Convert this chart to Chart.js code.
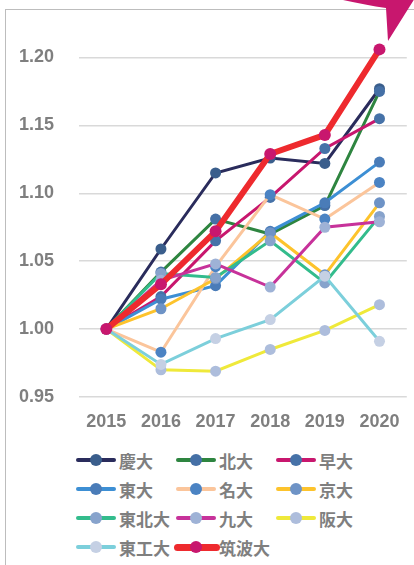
<!DOCTYPE html>
<html lang="ja">
  <head>
    <meta charset="UTF-8" />
    <title>chart</title>
    <style>
      html, body { margin: 0; padding: 0; background: #fff; }
      body { width: 414px; height: 565px; position: relative; overflow: hidden; }
      #frame { position: absolute; left: 5px; top: 9px; width: 420px; height: 570px;
        border-left: 1.5px solid #bdbdbd; border-top: 1.5px solid #bdbdbd; }
      #chart { position: absolute; left: 0; top: 0; }
      #legend { position: absolute; left: 0; top: 0; }
      .item { position: absolute; height: 28px; display: flex; align-items: center;
        font: bold 17px "Noto Sans CJK JP", sans-serif; color: #7f7f7f; white-space: nowrap; }
      .sym { position: relative; width: 40px; height: 28px; margin-right: 3px; }
      .sym .ln { position: absolute; left: 0; right: 0; top: 50%; height: 4px; margin-top: -2px; border-radius: 2px; }
      .sym .dot { position: absolute; left: 20px; top: 50%; width: 12px; height: 12px; margin: -6px 0 0 -6px; border-radius: 50%; }
    </style>
  </head>
  <body>
    <div id="frame"></div>
    <canvas id="chart" width="414" height="440"></canvas>
    <div id="legend"></div>
    <script src="https://cdn.jsdelivr.net/npm/chart.js"></script>
    <script>
      const years = ['2015', '2016', '2017', '2018', '2019', '2020'];
      const names = ['慶大', '北大', '早大', '東大', '名大', '京大', '東北大', '九大', '阪大', '東工大', '筑波大'];

      const keio = [1.0, 1.059, 1.115, 1.126, 1.122, 1.177];
      const hokudai = [1.0, 1.042, 1.081, 1.07, 1.091, 1.175];
      const waseda = [1.0, 1.024, 1.065, 1.097, 1.133, 1.155];
      const todai = [1.0, 1.022, 1.032, 1.072, 1.093, 1.123];
      const meidai = [1.0, 0.983, 1.046, 1.099, 1.081, 1.108];
      const kyodai = [1.0, 1.015, 1.037, 1.071, 1.04, 1.093];
      const tohoku = [1.0, 1.041, 1.038, 1.065, 1.034, 1.083];
      const kyudai = [1.0, 1.036, 1.048, 1.031, 1.075, 1.079];
      const handai = [1.0, 0.97, 0.969, 0.985, 0.999, 1.018];
      const tokodai = [1.0, 0.974, 0.993, 1.007, 1.039, 0.991];
      const tsukuba = [1.0, 1.033, 1.072, 1.129, 1.143, 1.206];
      const series = [keio, hokudai, waseda, todai, meidai, kyodai, tohoku, kyudai, handai, tokodai, tsukuba];

      const lineColors = ['#2a2c5c', '#2e8540', '#c8176e', '#3d8fd4', '#fbc59b', '#fdc32c',
        '#33bc8c', '#c7329a', '#efe93a', '#7ccfdb', '#ee2a2e'];
      const pointColors = ['#3a5e8c', '#4570a6', '#4672a8', '#4a7cb8', '#4b83c3', '#6e93c6',
        '#87a3cc', '#9eb2d6', '#adbddc', '#c5d0e4', '#c8176e'];

      const gray = '#7f7f7f';

      const datasets = names.map(function (name, i) {
        const thick = i === names.length - 1;
        return {
          label: name,
          data: series[i],
          borderColor: lineColors[i],
          backgroundColor: pointColors[i],
          pointBackgroundColor: pointColors[i],
          pointBorderColor: pointColors[i],
          borderWidth: thick ? 6 : 3,
          pointRadius: thick ? 6 : 5.5,
          pointBorderWidth: 0,
          tension: 0,
          order: names.length - i
        };
      });

      // magenta arrow pointing at the last point, top right
      const arrowPlugin = {
        id: 'arrow',
        afterDraw: function (chart) {
          const ctx = chart.ctx;
          ctx.save();
          ctx.fillStyle = '#c8176e';
          ctx.beginPath();
          ctx.moveTo(343, 0);
          ctx.quadraticCurveTo(366, 5, 386, 8);
          ctx.lineTo(388, 41);
          ctx.lineTo(415, -2);
          ctx.closePath();
          ctx.fill();
          ctx.restore();
        }
      };

      new Chart(document.getElementById('chart'), {
        type: 'line',
        data: { labels: years, datasets: datasets },
        options: {
          responsive: false,
          animation: false,
          devicePixelRatio: 1,
          layout: { padding: { top: 10, left: 0, right: 0, bottom: 0 } },
          plugins: { legend: { display: false }, tooltip: { enabled: false } },
          scales: {
            x: {
              type: 'category',
              offset: true,
              grid: { display: false, drawTicks: false },
              border: { display: false },
              ticks: { color: gray, padding: 14, font: { family: 'Liberation Sans', size: 18, weight: 'bold' } },
              afterFit: function (scale) { scale.height = 43; }
            },
            y: {
              min: 0.95,
              max: 1.235,
              grid: { color: '#d9d9d9', lineWidth: 1.5, drawTicks: false },
              border: { display: false },
              ticks: {
                stepSize: 0.05,
                includeBounds: false,
                padding: 25,
                color: gray,
                font: { family: 'Liberation Sans', size: 18, weight: 'bold' },
                callback: function (v) { return v.toFixed(2); }
              },
              afterFit: function (scale) {
                scale.width = 79;
                scale.paddingTop = 0;
                scale.paddingBottom = 0;
              }
            }
          }
        },
        plugins: [arrowPlugin]
      });

      // legend, 3 columns
      const legend = document.getElementById('legend');
      names.forEach(function (name, i) {
        const col = i % 3;
        const row = Math.floor(i / 3);
        const item = document.createElement('div');
        item.className = 'item';
        item.style.left = 76 + col * 100 + 'px';
        item.style.top = 446 + row * 29 + 'px';
        const sym = document.createElement('span');
        sym.className = 'sym';
        const ln = document.createElement('span');
        ln.className = 'ln';
        ln.style.background = lineColors[i];
        if (i === names.length - 1) {
          ln.style.height = '7px';
          ln.style.marginTop = '-3.5px';
          ln.style.borderRadius = '3.5px';
          ln.style.left = '-2px';
          ln.style.right = '-4px';
        }
        const dot = document.createElement('span');
        dot.className = 'dot';
        dot.style.background = pointColors[i];
        sym.appendChild(ln);
        sym.appendChild(dot);
        item.appendChild(sym);
        item.appendChild(document.createTextNode(name));
        legend.appendChild(item);
      });
    </script>
  </body>
</html>
